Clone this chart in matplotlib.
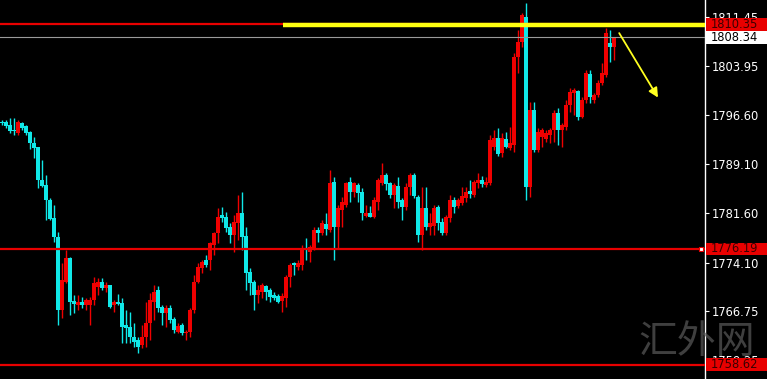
import numpy as np
import matplotlib
matplotlib.use("Agg")
import matplotlib.pyplot as plt
from matplotlib.patches import Rectangle
from matplotlib.transforms import blended_transform_factory

# OHLC, one entry per candle (left to right)
opens = [1795.49, 1795.53, 1795.03, 1794.27, 1793.81, 1795.33, 1794.88, 1793.97, 1792.29, 1791.69,
         1786.67, 1785.91, 1783.63, 1780.89, 1778.01, 1766.91, 1771.17, 1774.81, 1768.28, 1767.67,
         1768.13, 1767.67, 1767.67, 1768.43, 1770.41, 1771.17, 1770.25, 1770.71, 1767.67, 1768.13,
         1767.97, 1764.63, 1764.33, 1762.81, 1762.35, 1761.59, 1762.81, 1764.93, 1768.13, 1769.95,
         1767.37, 1766.45, 1767.21, 1765.54, 1763.57, 1764.63, 1763.41, 1763.57, 1766.91, 1771.17,
         1773.29, 1774.51, 1774.51, 1776.79, 1778.61, 1781.35, 1781.05, 1779.53, 1778.31, 1780.13,
         1781.65, 1778.16, 1772.69, 1771.17, 1769.19, 1769.65, 1770.56, 1769.95, 1769.19, 1769.04,
         1768.28, 1768.73, 1771.93, 1774.05, 1773.45, 1773.75, 1776.33, 1775.73, 1776.33, 1779.07,
         1778.61, 1779.98, 1779.07, 1786.37, 1779.53, 1782.11, 1782.87, 1786.37, 1784.85, 1785.91,
         1784.85, 1781.20, 1781.65, 1781.05, 1783.33, 1786.21, 1787.43, 1786.21, 1784.39, 1785.76,
         1783.63, 1782.57, 1785.61, 1787.43, 1784.09, 1778.31, 1782.41, 1779.53, 1779.68, 1782.57,
         1780.29, 1778.61, 1780.89, 1783.63, 1782.72, 1783.17, 1783.93, 1785.00, 1784.39, 1786.21,
         1786.67, 1785.91, 1786.21, 1791.69, 1793.05, 1790.77, 1792.90, 1791.53, 1791.99, 1805.37,
         1807.65, 1811.45, 1785.61, 1797.31, 1791.23, 1793.21, 1792.90, 1793.51, 1794.27, 1796.85,
         1794.27, 1794.73, 1798.07, 1799.89, 1800.20, 1796.25, 1798.83, 1802.78, 1798.83, 1799.59,
         1801.41, 1802.63, 1807.49, 1806.89]
highs = [1795.79, 1795.79, 1796.09, 1796.09, 1795.79, 1795.49, 1795.03, 1794.12, 1793.21, 1791.69,
         1789.71, 1787.43, 1783.93, 1782.87, 1778.77, 1774.05, 1776.03, 1774.97, 1769.19, 1769.19,
         1768.89, 1768.73, 1768.89, 1771.93, 1771.77, 1771.77, 1771.17, 1770.71, 1768.43, 1769.34,
         1768.73, 1766.91, 1766.61, 1764.93, 1762.81, 1764.63, 1768.13, 1769.49, 1770.71, 1770.56,
         1767.67, 1767.67, 1767.67, 1765.85, 1764.93, 1764.93, 1763.87, 1767.21, 1772.23, 1774.05,
         1774.51, 1775.27, 1777.25, 1778.77, 1782.41, 1782.57, 1781.81, 1780.13, 1781.35, 1784.39,
         1784.85, 1779.53, 1773.29, 1771.47, 1770.71, 1771.01, 1770.71, 1770.25, 1769.65, 1769.34,
         1769.49, 1772.23, 1774.05, 1774.21, 1774.51, 1776.79, 1777.85, 1776.79, 1779.53, 1779.53,
         1780.59, 1781.65, 1788.19, 1787.13, 1782.87, 1784.09, 1786.37, 1787.13, 1786.37, 1786.21,
         1785.45, 1782.87, 1782.72, 1784.09, 1786.97, 1789.25, 1787.73, 1786.37, 1786.21, 1787.13,
         1783.93, 1786.21, 1787.73, 1787.73, 1784.39, 1785.61, 1785.61, 1781.65, 1782.87, 1782.87,
         1780.89, 1781.35, 1784.39, 1784.09, 1783.93, 1785.61, 1785.61, 1786.67, 1786.67, 1787.73,
         1787.28, 1787.13, 1793.51, 1794.27, 1794.57, 1793.81, 1793.97, 1794.73, 1805.97, 1809.47,
         1812.05, 1813.57, 1798.53, 1798.53, 1794.57, 1794.57, 1794.27, 1794.57, 1797.31, 1797.61,
         1795.33, 1798.83, 1800.65, 1800.65, 1800.35, 1799.29, 1803.39, 1803.39, 1799.89, 1801.87,
         1804.45, 1809.77, 1809.47, 1808.33]
lows = [1795.03, 1794.57, 1793.81, 1793.51, 1793.51, 1794.27, 1793.51, 1791.38, 1790.01, 1785.45,
        1785.61, 1780.59, 1780.59, 1777.25, 1764.63, 1765.69, 1771.01, 1766.15, 1766.45, 1766.91,
        1767.21, 1766.91, 1764.63, 1767.67, 1769.19, 1769.95, 1769.65, 1767.21, 1766.61, 1767.67,
        1761.89, 1761.89, 1761.89, 1761.29, 1760.37, 1761.13, 1761.29, 1762.35, 1765.39, 1766.61,
        1764.63, 1764.33, 1764.93, 1763.41, 1763.41, 1763.11, 1762.35, 1762.81, 1766.45, 1771.01,
        1772.53, 1773.45, 1772.99, 1775.27, 1777.09, 1780.29, 1778.77, 1777.09, 1775.73, 1777.55,
        1776.03, 1769.95, 1769.19, 1766.91, 1767.97, 1768.73, 1768.43, 1768.13, 1768.43, 1767.97,
        1766.61, 1767.37, 1770.41, 1772.23, 1772.99, 1772.99, 1774.51, 1774.21, 1776.03, 1777.25,
        1778.31, 1778.31, 1778.77, 1774.51, 1776.33, 1779.53, 1782.57, 1783.33, 1784.09, 1783.33,
        1780.59, 1781.05, 1781.05, 1780.89, 1782.11, 1785.91, 1785.15, 1783.93, 1782.41, 1782.41,
        1780.59, 1782.11, 1784.39, 1783.93, 1777.25, 1776.03, 1779.07, 1778.31, 1778.31, 1779.07,
        1778.31, 1778.31, 1780.29, 1781.65, 1782.41, 1782.87, 1783.33, 1783.93, 1784.09, 1785.45,
        1785.61, 1785.61, 1785.91, 1791.23, 1790.32, 1790.17, 1791.53, 1791.23, 1790.93, 1802.93,
        1806.89, 1783.63, 1784.09, 1790.93, 1790.93, 1791.69, 1792.45, 1792.29, 1792.45, 1791.99,
        1791.69, 1794.27, 1797.01, 1796.55, 1795.79, 1796.09, 1798.37, 1798.37, 1798.37, 1799.29,
        1801.11, 1802.33, 1804.61, 1804.91]
closes = [1795.33, 1794.88, 1794.16, 1794.12, 1795.53, 1794.57, 1793.81, 1792.29, 1791.53, 1786.67,
          1785.76, 1783.63, 1780.74, 1778.01, 1766.91, 1771.47, 1774.81, 1768.13, 1767.82, 1768.13,
          1767.67, 1768.43, 1768.43, 1771.01, 1771.17, 1770.25, 1770.71, 1767.37, 1768.13, 1767.82,
          1764.33, 1764.17, 1762.81, 1762.05, 1761.29, 1762.81, 1764.93, 1768.43, 1769.65, 1767.21,
          1766.45, 1767.21, 1765.39, 1763.87, 1764.48, 1763.41, 1763.57, 1766.91, 1771.17, 1773.45,
          1774.21, 1773.75, 1777.09, 1778.61, 1781.05, 1780.89, 1779.37, 1778.31, 1780.29, 1781.65,
          1778.01, 1772.53, 1771.01, 1769.19, 1769.95, 1770.71, 1769.65, 1768.89, 1768.73, 1768.13,
          1769.04, 1771.93, 1773.75, 1773.75, 1774.05, 1776.03, 1776.03, 1776.49, 1779.07, 1778.61,
          1780.13, 1779.22, 1786.21, 1779.53, 1782.41, 1783.33, 1786.21, 1784.85, 1786.21, 1784.69,
          1781.65, 1781.65, 1781.05, 1783.63, 1786.67, 1787.43, 1786.06, 1784.39, 1785.91, 1783.33,
          1782.57, 1785.61, 1787.43, 1784.24, 1778.31, 1782.41, 1779.53, 1780.13, 1782.41, 1780.13,
          1778.61, 1781.05, 1783.63, 1782.57, 1783.63, 1784.24, 1784.85, 1784.54, 1786.37, 1786.67,
          1786.06, 1786.37, 1792.75, 1793.05, 1790.62, 1793.05, 1791.69, 1792.29, 1805.37, 1807.65,
          1811.75, 1785.61, 1797.31, 1791.23, 1793.97, 1794.27, 1793.81, 1794.27, 1796.85, 1794.27,
          1795.03, 1798.07, 1800.05, 1800.35, 1796.25, 1798.83, 1802.93, 1799.29, 1799.59, 1801.41,
          1802.93, 1809.01, 1806.89, 1808.33]

# price levels drawn across the chart
level_lines = [1810.35, 1776.19, 1758.62]
bid_price = 1808.34
axis_ticks = [1811.45, 1803.95, 1796.60, 1789.10, 1781.60, 1774.10, 1766.75, 1759.25]

up_col = '#f00000'
down_col = '#10e8e8'
line_red = '#e80000'

W, H = 767, 379
fig = plt.figure(figsize=(W / 100, H / 100), dpi=100, facecolor='black')
ax = fig.add_axes([0, 0, 705 / W, 1])
ax.set_facecolor('black')

n = len(opens)
x = np.arange(n)
o = np.array(opens); h = np.array(highs); l = np.array(lows); c = np.array(closes)
cols = np.where(c >= o, up_col, down_col)

ax.vlines(x, l, h, colors=cols, lw=1.0, zorder=2)
body_lo = np.minimum(o, c)
body_h = np.maximum(np.abs(c - o), 0.12)
ax.bar(x, body_h, bottom=body_lo, width=0.78, color=cols, linewidth=0, zorder=3)

ax.set_xlim(-0.5, 175.75)
ax.set_ylim(1756.43, 1814.03)

# horizontal levels
for lv in level_lines:
    ax.axhline(lv, color=line_red, lw=1.6, zorder=4)
ax.axhline(bid_price, color='#9a9a9a', lw=0.8, zorder=4)
ax.plot([70.25, 175.75], [1810.3, 1810.3], color='#ffff10', lw=3.2,
        solid_capstyle='butt', zorder=5)
ax.plot([174.8], [1776.19], marker='s', ms=3, mfc='white', mec=line_red, mew=0.8,
        zorder=6, clip_on=False)

# trend arrow
ax.annotate('', xy=(164.0, 1799.2), xytext=(154.3, 1809.0),
            arrowprops=dict(arrowstyle='-|>', color='#ffff20', lw=1.3,
                            mutation_scale=14, shrinkA=0, shrinkB=0),
            zorder=6)

# right price axis
for s in ['left', 'top', 'bottom']:
    ax.spines[s].set_visible(False)
ax.spines['right'].set_color('white')
ax.spines['right'].set_linewidth(1)
ax.set_xticks([])
ax.yaxis.tick_right()
ax.set_yticks(axis_ticks)
ax.set_yticklabels(['%.2f' % t for t in axis_ticks])
ax.tick_params(axis='y', colors='white', length=3, width=0.8, pad=2, labelsize=8.3)

# price tags on the axis
tr = blended_transform_factory(fig.transFigure, ax.transData)
tag_h = 1.95
tags = [(1810.35, line_red, '#3a0000'), (bid_price, 'white', 'black'),
        (1776.19, line_red, '#3a0000'), (1758.62, line_red, '#3a0000')]
for price, fc, tc in tags:
    fig.add_artist(Rectangle((706 / W, price - tag_h / 2), 1 - 706 / W, tag_h,
                             transform=tr, facecolor=fc, edgecolor='none', zorder=5))
    fig.text(711 / W, price, '%.2f' % price, transform=tr, color=tc, fontsize=8.3,
             va='center', ha='left', zorder=6)

# watermark
fig.text(697 / W, 1 - 342 / H, '汇外网', color='#5a5a5a', alpha=0.7, fontsize=28,
         family=['Noto Sans CJK SC', 'DejaVu Sans'], ha='center', va='center', zorder=4)

fig.savefig('out.png', dpi=100, facecolor='black')
